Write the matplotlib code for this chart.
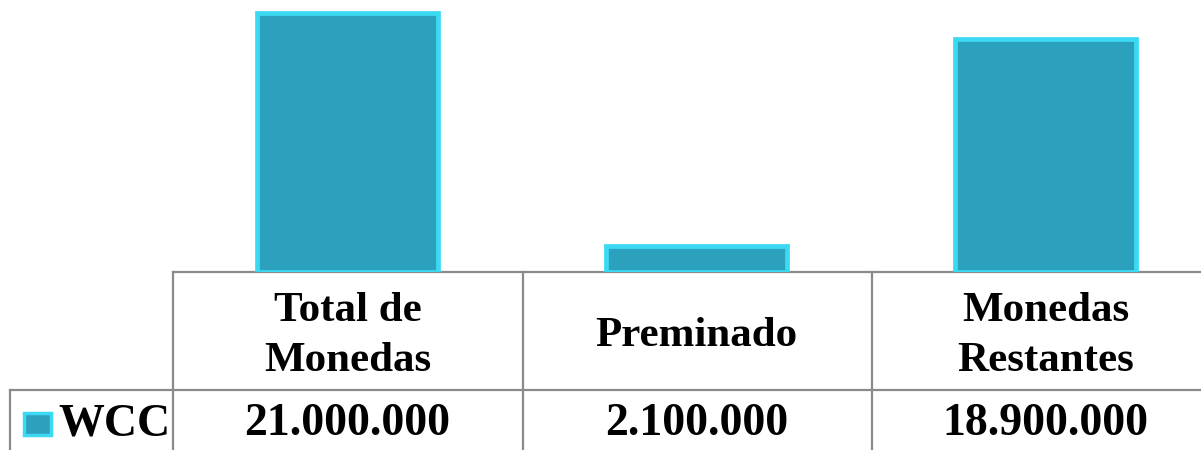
import matplotlib.pyplot as plt
from matplotlib.lines import Line2D
from matplotlib.patches import Rectangle

categories = ["Total de\nMonedas", "Preminado", "Monedas\nRestantes"]
values = [21000000, 2100000, 18900000]
series_name = "WCC"

W, H = 1201, 450
fill = "#2BA1BD"
edge = "#3CD9F3"
grid = "#8A8A8A"

plt.rcParams["font.family"] = ["Liberation Serif", "DejaVu Serif"]

fig = plt.figure(figsize=(W / 100, H / 100), dpi=100)

# overlay in pixel coordinates for the table lines and legend key
ov = fig.add_axes([0, 0, 1, 1])
ov.set_xlim(0, W)
ov.set_ylim(H, 0)
ov.axis("off")

base_y = 272
ax = fig.add_axes([173 / W, (H - base_y) / H, (W - 173) / W, base_y / H])
ax.bar(range(len(values)), values, width=0.52, color=fill, edgecolor=edge,
       linewidth=3.4, zorder=3)
ax.set_xlim(-0.5, -0.5 + (W - 173) / 349)
ax.set_ylim(0, 21000000 * 272 / 259)
ax.axis("off")

# table lines
ov.add_line(Line2D([173, W], [base_y, base_y], color=grid, lw=1.6))
ov.add_line(Line2D([10, W], [390, 390], color=grid, lw=1.6))
ov.add_line(Line2D([10, 10], [390, H], color=grid, lw=1.6))
for xb in [173, 523, 872]:
    ov.add_line(Line2D([xb, xb], [base_y, H], color=grid, lw=1.6))

# legend cell
ov.add_patch(Rectangle((24, 413), 27, 22, facecolor=fill, edgecolor=edge, lw=2.5))
ov.text(114, 424, series_name, ha="center", va="center", fontsize=33,
        fontweight="bold")

tr = ax.get_xaxis_transform()
for i, (cat, v) in enumerate(zip(categories, values)):
    ax.text(i, -64 / 272, cat, transform=tr, ha="center", va="center",
            fontsize=31, fontweight="bold", linespacing=1.4)
    ax.text(i, -152 / 272, f"{v:,}".replace(",", "."), transform=tr,
            ha="center", va="center", fontsize=33, fontweight="bold")

fig.savefig("out.png", dpi=100)
